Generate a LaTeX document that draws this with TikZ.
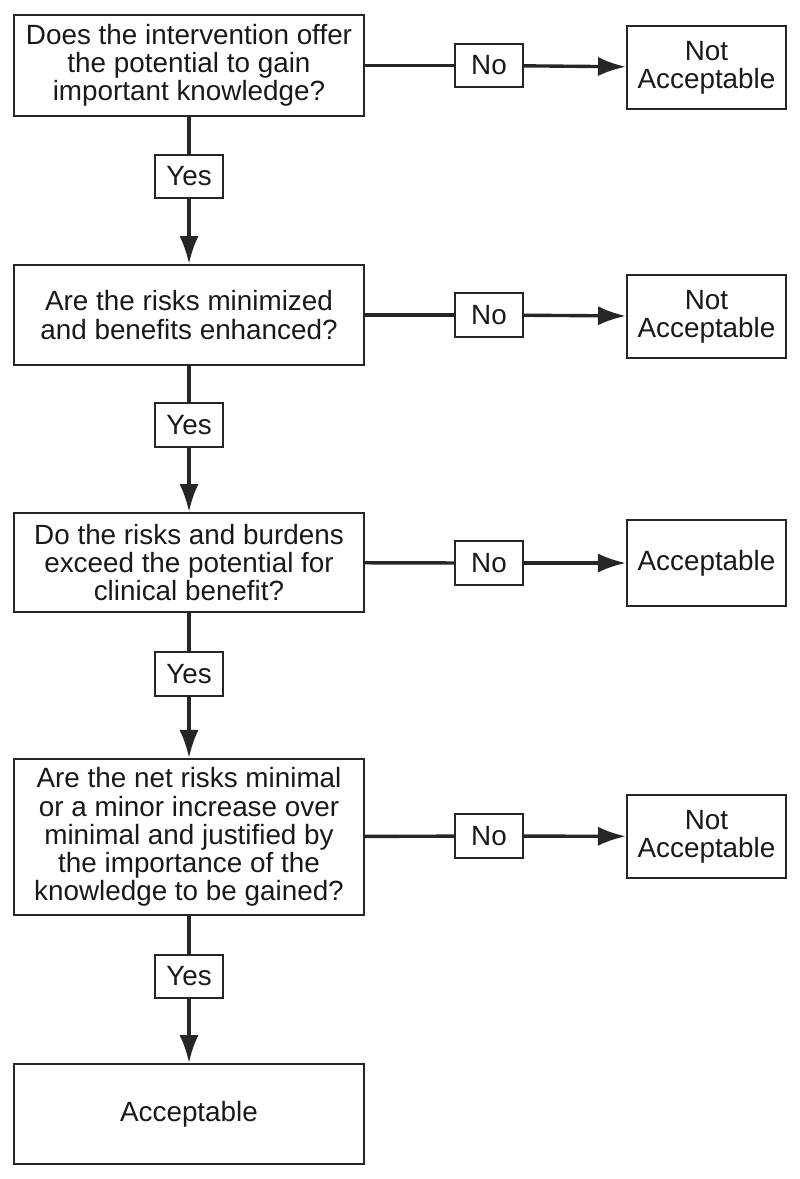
\documentclass[tikz,border=0pt]{standalone}
\usepackage{fontspec}
\setmainfont{Liberation Sans}
\usetikzlibrary{arrows.meta,positioning}

\begin{document}
\begin{tikzpicture}[x=0.025cm, y=-0.025cm, >={Latex[length=7mm,width=4.8mm]},
    every node/.style={font=\fontsize{19.8}{20}\selectfont, text=black!90},
    qbox/.style={draw=black!85, line width=1.4pt, align=center, minimum width=8.725cm, inner sep=0pt},
    rbox/.style={draw=black!85, line width=1.4pt, align=center, minimum width=3.975cm, minimum height=2.075cm, inner sep=0pt},
    lbl/.style={draw=black!85, line width=1.3pt, minimum width=1.7cm, minimum height=1.08cm, inner sep=0pt},
    conn/.style={draw=black!85, line width=2.4pt}]
    \useasboundingbox (0,0) rectangle (800,1179);
    % questions down the left
    \node[qbox, minimum height=2.525cm] (q1) at (189,65.5) {Does the intervention offer\\the potential to gain\\important knowledge?};
    \node[qbox, minimum height=2.5cm] (q2) at (189,315) {Are the risks minimized\\and benefits enhanced?};
    \node[qbox, minimum height=2.475cm] (q3) at (189,562.5) {Do the risks and burdens\\exceed the potential for\\clinical benefit?};
    \node[qbox, minimum height=3.9cm] (q4) at (189,837) {Are the net risks minimal\\or a minor increase over\\minimal and justified by\\the importance of the\\knowledge to be gained?};
    \node[qbox, minimum height=2.5cm] (fin) at (189,1114) {Acceptable};
    % outcomes on the right
    \node[rbox] (r1) at (706.5,67.5) {Not\\Acceptable};
    \node[rbox] (r2) at (706.5,316.5) {Not\\Acceptable};
    \node[rbox, minimum height=2.15cm] (r3) at (706.5,563) {Acceptable};
    \node[rbox] (r4) at (706.5,836.5) {Not\\Acceptable};
    % yes / no labels
    \node[lbl] (n1) at (489,65.5) {No};
    \node[lbl] (n2) at (489,315) {No};
    \node[lbl] (n3) at (489,563) {No};
    \node[lbl] (n4) at (489,836) {No};
    \node[lbl] (y1) at (189,176.5) {Yes};
    \node[lbl] (y2) at (189,425) {Yes};
    \node[lbl] (y3) at (189,674) {Yes};
    \node[lbl] (y4) at (189,976.5) {Yes};

    \draw[conn] (q1) -- (n1);
    \draw[conn,->] (n1) -- (r1);
    \draw[conn] (q2) -- (n2);
    \draw[conn,->] (n2) -- (r2);
    \draw[conn] (q3) -- (n3);
    \draw[conn,->] (n3) -- (r3);
    \draw[conn] (q4) -- (n4);
    \draw[conn,->] (n4) -- (r4);

    \draw[conn] (q1) -- (y1);
    \draw[conn,->] (y1) -- (q2);
    \draw[conn] (q2) -- (y2);
    \draw[conn,->] (y2) -- (q3);
    \draw[conn] (q3) -- (y3);
    \draw[conn,->] (y3) -- (q4);
    \draw[conn] (q4) -- (y4);
    \draw[conn,->] (y4) -- (fin);
\end{tikzpicture}
\end{document}
